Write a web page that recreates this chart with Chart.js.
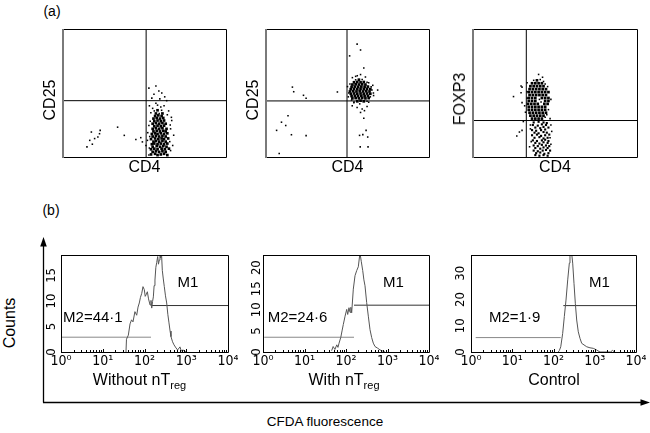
<!DOCTYPE html>
<html><head><meta charset="utf-8">
<script src="https://cdn.jsdelivr.net/npm/chart.js@4.4.0/dist/chart.umd.min.js"></script>
<style>
body{margin:0;background:#fff;width:650px;height:433px;overflow:hidden;position:relative;font-family:"Liberation Sans",Arial,sans-serif;color:#000;}
canvas{position:absolute;}
.t{position:absolute;white-space:nowrap;line-height:16px;transform:translate(-50%,-50%);}
.r{transform:translate(-50%,-50%) rotate(-90deg);}
sub{font-size:11px;line-height:0;vertical-align:baseline;position:relative;top:4px;}
svg{position:absolute;left:0;top:0;}
</style></head><body>
<svg width="650" height="433">
  <line x1="43.5" y1="244" x2="43.5" y2="402.5" stroke="#000" stroke-width="1.3"/>
  <polygon points="43.5,237 40.2,246.5 46.8,246.5" fill="#000"/>
  <line x1="43" y1="402.5" x2="642" y2="402.5" stroke="#000" stroke-width="1.3"/>
  <polygon points="650,402.5 640.5,399.2 640.5,405.8" fill="#000"/>
</svg>
<canvas id="d1" width="189" height="154" style="left:41px;top:25px"></canvas>
<canvas id="d2" width="189" height="154" style="left:244px;top:25px"></canvas>
<canvas id="d3" width="190" height="154" style="left:451px;top:25px"></canvas>
<canvas id="h1" width="193" height="120" style="left:45px;top:252px"></canvas>
<canvas id="h2" width="192" height="120" style="left:247px;top:252px"></canvas>
<canvas id="h3" width="191" height="120" style="left:455px;top:252px"></canvas>

<div class="t" style="left:52px;top:11px;font-size:14px">(a)</div>
<div class="t" style="left:51px;top:210px;font-size:14px">(b)</div>
<div class="t r" style="left:50px;top:100px;font-size:16px">CD25</div>
<div class="t r" style="left:253px;top:100px;font-size:16px">CD25</div>
<div class="t r" style="left:460px;top:99px;font-size:16px">FOXP3</div>
<div class="t r" style="left:10px;top:323px;font-size:16px">Counts</div>
<div class="t" style="left:325px;top:422px;font-size:13.5px">CFDA fluorescence</div>
<div class="t" style="left:139.5px;top:380px;font-size:16px">Without nT<sub>reg</sub></div>
<div class="t" style="left:344px;top:380px;font-size:16px">With nT<sub>reg</sub></div>
<div class="t" style="left:554px;top:380px;font-size:16px">Control</div>

<script>
const FONT = '"Liberation Sans", Arial, sans-serif';
const TICKFONT = '"Liberation Sans Narrow", "DejaVu Sans Condensed", "Liberation Sans", sans-serif';
Chart.defaults.font.family = FONT;
Chart.defaults.color = '#000';

// ---------- (a) dot plots: values on a 0-100 fluorescence scale ----------
const xTitleDot = ['CD4', 'CD4', 'CD4'];
const quadX = [51, 49.7, 32.5];
const quadY = [44, 43.8, 28.5];

const p1Core = [
54,2, 56.5,2.5, 58,1.5, 60,2, 62,2.5, 64,1.5,
55,4, 57,4.5, 59,4, 61,4.5, 63,4,
54,6, 56,6.5, 58,6, 60.5,6.5, 62.5,6, 65,6.5,
55,8, 57.5,8.5, 59.5,8, 61.5,8.5, 63.5,8,
54.5,10, 56,10.5, 58,10, 60,10.5, 62,10, 64,10.5,
55.5,12, 57,12.5, 59,12, 61,12.5, 63,12,
54,14, 56.5,14.5, 58.5,14, 60.5,14.5, 62,14, 64.5,14.5,
55,16, 57,16.5, 59,16, 61,16.5, 63,16,
54.5,18, 56.5,18.5, 58,18, 60,18.5, 62,18, 64,18.5,
55.5,20, 57.5,20.5, 59.5,20, 61.5,20.5, 63,20,
55,22, 57,22.5, 59,22, 61,22.5, 63.5,22,
56,24, 58,24.5, 60,24, 62,24.5,
55,26, 57,26.5, 59,26, 61,26.5, 63,26,
56,28, 58,28.5, 60,28, 62,28.5,
55.5,30, 57.5,30.5, 59.5,30, 61.5,30.5,
56.5,32, 58.5,32.5, 60.5,32,
57,34, 61,34,
58,36.5];
const p1Sparse = [
52.7,53.8, 57,55.4, 58.8,51.5, 60.6,50, 62.4,47, 55.8,49, 59.4,45.4, 54.5,46,
51.8,13, 66.7,28.5, 67.9,17, 50.9,9, 52.7,1.5, 66,5, 64.8,36, 53.9,34.6, 63.6,44,
52.7,24.6, 67.3,9, 53,40, 62,40, 66,22, 52,19, 57,42, 60,39, 56,36, 60.5,36.5, 59,34,
53,7, 53.2,16, 53.5,28, 65.5,12, 65.8,25, 66.5,31, 64,33, 55,38, 58,40.5,
14.7,7.9, 18,10, 16.4,13, 19.4,14.4, 22.4,18.2, 22.8,20.8, 17.4,19.5, 33.5,23.3,
37.6,16.9, 44.7,13.6, 47.7,15.1, 48.7,11.8, 21.4,15.6];

const p2Core = [
56,43.5, 58,44, 60,43.5,
53,45.8, 55,46, 57,45.8, 59,46, 61,45.8, 63,46,
52.5,47.6, 54.5,47.8, 56.5,47.6, 58.5,47.8, 60.5,47.6, 62.5,47.8,
52,49.4, 54,49.6, 56,49.4, 58,49.6, 60,49.4, 62,49.6, 64,49.4,
51.5,51.2, 53.5,51.4, 55.5,51.2, 57.5,51.4, 59.5,51.2, 61.5,51.4, 63.5,51.2,
52,53, 54,53.2, 56,53, 58,53.2, 60,53, 62,53.2, 64,53,
52.5,54.8, 54.5,55, 56.5,54.8, 58.5,55, 60.5,54.8, 62.5,55,
53,56.6, 55,56.8, 57,56.6, 59,56.8, 61,56.6,
54,58.4, 56,58.6, 58,58.4, 60,58.6,
57,60.4];
const p2Sparse = [
55.9,88.2, 58,83.6, 51.3,79, 60,69.5, 58,64.4, 55,63, 43.8,50.8, 65,52.3, 68.5,52.3,
52.9,40, 55.9,38.7, 59,37.5, 62,39.5, 60.4,36.2, 58,34.8, 60,30.3, 61.4,20.8,
57.4,16.9, 59.4,17.5, 62.4,15.6, 57.8,7.9, 62.6,7.9, 53.9,42.5, 63,42.8, 65.9,50,
50,55, 50.5,47, 66,48, 65.5,56, 56,63.5, 61,62.5, 53,62, 54,43, 62,43.5, 64,47, 63,58,
62,58.4, 55,60.3, 59,60.5, 51.5,57, 50.8,50, 52.5,44.5, 64.5,54.8, 57.5,41.5,
16.2,54.6, 17,51, 23,48.2, 24.6,45.9, 13.5,32.3, 9.5,27.2, 12.1,24.6, 6.5,20.8,
15.6,17.4, 24.6,16.7, 8.1,2.8];

const p3Core = [
36,30, 38,30, 40,30, 42,30,
35,32.3, 37,32.3, 39,32.3, 41,32.3, 43,32.3,
34.5,34.6, 36.5,34.6, 38.5,34.6, 40.5,34.6, 42.5,34.6, 44.5,34.6,
34,36.9, 36,36.9, 38,36.9, 40,36.9, 42,36.9, 44,36.9,
34,39.2, 36,39.2, 38,39.2, 40,39.2, 42,39.2, 44,39.2,
33.5,41.5, 35.5,41.5, 37.5,41.5, 39.5,41.5, 43.5,41.5, 45.5,41.5,
34,43.8, 36,43.8, 38,43.8, 44,43.8, 46,43.8,
34,46.1, 36,46.1, 38,46.1, 42,46.1, 44,46.1, 46,46.1,
34.5,48.4, 36.5,48.4, 38.5,48.4, 40.5,48.4, 42.5,48.4, 44.5,48.4,
34,50.7, 36,50.7, 38,50.7, 40,50.7, 42,50.7, 44,50.7, 46,50.7,
34.5,53, 36.5,53, 38.5,53, 40.5,53, 42.5,53, 44.5,53,
35,55.3, 37,55.3, 39,55.3, 41,55.3, 43,55.3,
36,57.6, 38,57.6, 40,57.6, 42,57.6,
39,59.9];
const p3Low = [
37,27, 40,27.5, 43,27, 45,26.5,
36.5,25, 39.5,24.5, 42,25.5, 44.5,25,
38,23, 41,22.5, 43,23.5, 46,23,
36,21, 38.5,20.5, 41.5,21, 44,21.5,
37.5,19, 40,18.5, 43,19.5, 45,19,
36,17, 39,17.5, 41.5,16.5, 44,17, 46.5,17.5,
37.5,15, 40.5,15.5, 43,14.5, 45.5,15,
36.5,13, 39,12.5, 42,13, 44,13.5, 46,12.5,
38,11, 40.5,10.5, 43,11.5, 45.5,11,
37,9, 39.5,8.5, 42,9.5, 44.5,9, 46.5,8.5,
38,7, 41,6.5, 43,7.5, 45.5,7,
37,5, 39.5,4.5, 42.5,5, 44.5,5.5, 47,5,
38.5,3, 41,3.5, 43.5,2.5, 46,3,
38,1.5, 40.5,1, 43,1.5, 45.5,1];
const p3Sparse = [
29.3,55.4, 24.7,47.2, 29.3,50.2, 29.9,42.5, 28.3,19.5, 26.7,16.4, 29.9,20.8, 30.7,27.7,
29.9,54.6, 42.4,62.3, 40,64.5, 47.5,45, 33,58, 31.5,40, 32,35, 47,30, 48,20, 47.5,10,
35,25, 34.5,8, 37,59.9, 41,60.5, 43,59, 44,57, 45.5,55, 46,37, 45,33, 44,31, 33,46, 33,51,
40.5,45, 41.5,43, 35,22, 35.5,12, 47.5,25, 47,15];

// ---------- (b) histograms ----------
const xTickValues = [1, 10, 100, 1000, 10000];
const xTickLabels = ['10\u2070', '10\u00B9', '10\u00B2', '10\u00B3', '10\u2074'];

const h1X = [36,37,41,45,49,53,59,65,70,75,80,86,92,99,104,109,117,125,136,143,149,156,163,170,178,187,196,207,216,226,235,244,255,267,282,298,318,340,362,386,410,431,470,509,568,620,708,760,836,986];
const h1Y = [0,2.5,3.3,5.5,6.3,5.9,7.9,7.2,8.8,9.6,10.7,11.5,12.8,12.2,10.9,11.2,11.8,10.4,9.2,10.1,8.6,9.9,10.8,13,14.1,16.6,17.5,18.7,17.2,18,19.5,18.4,19.5,16,14.3,12.8,11,9.6,7.4,5.7,4.1,3,2,1.4,0.8,0.4,1,0.2,0.4,0];
const h1Ticks = [0, 5, 10, 15];

const h2X = [45,49,54,60,64,68,75,81,86,95,104,110,118,125,131,137,150,165,181,198,217,234,253,270,287,315,345,379,416,455,500,580,659,871];
const h2Y = [0.3,1.3,0.6,1.7,1.1,2.1,3.5,5.2,6.5,8.5,10.1,8.9,10.5,9.4,10.6,9.3,14.9,18.1,19.3,20.2,23.5,21.4,19.3,17.1,15.7,11.7,8.5,5.3,3.4,2.1,1.3,0.9,0.5,0];
const h2Ticks = [0, 5, 10, 15, 20];

const h3X = [130,138,150,167,183,201,221,242,251,276,292,314,338,365,399,439,483,549,638,767,922,1100,1340,2400,2700,3000];
const h3Y = [0,0.5,2,7.1,13.5,19.8,27.5,33.9,37.5,37.5,33.9,26.2,18.6,12.2,7.7,5.2,3.3,2.7,2,1.6,1.4,0.8,0,0,0.6,0];
const h3Ticks = [0, 10, 20, 30];

// gates: [from, to, level]
const m2Gates = [[1.04, 143, 2.9], [1.07, 156, 3.5], [1.3, 150, 5.5]];
const m1Gates = [[149, 10000, 9.1], [156, 10000, 11.1], [173, 10000, 17.7]];
const m2Texts = ['M2=44\u00B71', 'M2=24\u00B76', 'M2=1\u00B79'];

function pairs(a){ const o=[]; for(let i=0;i<a.length;i+=2) o.push({x:a[i],y:a[i+1]}); return o; }

const framePlugin = {
  id: 'frame',
  afterDatasetsDraw(chart, args, o) {
    const {ctx, chartArea: a} = chart;
    const l = Math.round(a.left), r = Math.round(a.right), t = Math.round(a.top), b = Math.round(a.bottom);
    ctx.save();
    ctx.strokeStyle = '#000'; ctx.lineWidth = 1;
    ctx.beginPath();
    ctx.moveTo(l, t + 0.5); ctx.lineTo(r + 0.5, t + 0.5); ctx.lineTo(r + 0.5, b + 0.5); ctx.lineTo(l, b + 0.5);
    ctx.stroke();
    ctx.strokeStyle = o.leftColor || '#000'; ctx.lineWidth = o.leftWidth || 1;
    const off = (o.leftWidth || 1) % 2 ? 0.5 : 0;
    ctx.beginPath(); ctx.moveTo(l + off, t); ctx.lineTo(l + off, b + 1); ctx.stroke();
    ctx.restore();
  }
};

const histDeco = {
  id: 'histDeco',
  afterDatasetsDraw(chart, args, o) {
    const {ctx, chartArea: a, scales: {x, y}} = chart;
    ctx.save();
    ctx.strokeStyle = '#000'; ctx.lineWidth = 1;
    ctx.beginPath();
    for (let d = 0; d < 4; d++) for (let m = 2; m < 10; m++) {
      const px = Math.round(x.getPixelForValue(m * Math.pow(10, d))) + 0.5;
      ctx.moveTo(px, a.bottom); ctx.lineTo(px, a.bottom - 2);
    }
    for (const v of xTickValues) {
      const px = Math.round(x.getPixelForValue(v)) + 0.5;
      ctx.moveTo(px, a.bottom); ctx.lineTo(px, a.bottom - 3);
    }
    ctx.stroke();
    ctx.fillStyle = '#000';
    ctx.font = '15px ' + FONT;
    ctx.textBaseline = 'middle';
    ctx.textAlign = 'center';
    ctx.fillText('M1', x.getPixelForValue(o.m1[0]), y.getPixelForValue(o.m1[1]));
    ctx.textAlign = 'left';
    ctx.fillText(o.m2text, x.getPixelForValue(o.m2[0]), y.getPixelForValue(o.m2[1]));
    ctx.restore();
  }
};

function dotPlot(id, core, low, sparse, qx, qy, xTitle) {
  const ds = [
    {data: pairs([qx, 0, qx, 100]), showLine: true, borderColor: '#000', borderWidth: 1, pointRadius: 0},
    {data: pairs([0, qy, 100, qy]), showLine: true, borderColor: '#000', borderWidth: 1, pointRadius: 0},
    {data: pairs(core), pointStyle: 'rect', pointRadius: 1.9, backgroundColor: '#000', borderWidth: 0},
    {data: pairs(sparse), pointStyle: 'rect', pointRadius: 1.1, backgroundColor: '#000', borderWidth: 0}
  ];
  if (low) ds.push({data: pairs(low), pointStyle: 'rect', pointRadius: 1.5, backgroundColor: '#000', borderWidth: 0});
  new Chart(document.getElementById(id), {
    type: 'scatter',
    data: {datasets: ds},
    options: {
      animation: false, responsive: false, devicePixelRatio: 1, events: [],
      layout: {padding: {left: 0, top: 2, right: 2, bottom: 0}},
      plugins: {legend: {display: false}, tooltip: {enabled: false}, frame: {leftColor: '#7a7a7a', leftWidth: 2}},
      scales: {
        x: {type: 'linear', min: 0, max: 100, ticks: {display: false}, grid: {display: false, drawTicks: false}, border: {display: false},
            title: {display: true, text: xTitle, font: {size: 16}, padding: {top: 0, bottom: 1.5}},
            afterFit(s) { s.height = 22; s.paddingLeft = 0; s.paddingRight = 0; }},
        y: {type: 'linear', min: 0, max: 100, ticks: {display: false}, grid: {display: false, drawTicks: false}, border: {display: false},
            afterFit(s) { s.width = 22; s.paddingTop = 0; s.paddingBottom = 0; }}
      }
    },
    plugins: [framePlugin]
  });
}

function histogram(id, xs, ys, yMax, yTicks, i, yPad) {
  const curve = xs.map((x, k) => ({x, y: ys[k]}));
  const g2 = m2Gates[i], g1 = m1Gates[i];
  const labelPos = [
    {m1: [1100, 13.5], m2: [1.12, 6.7]},
    {m1: [1380, 16.3], m2: [1.3, 8]},
    {m1: [1290, 26.2], m2: [2.73, 12.9]}
  ][i];
  new Chart(document.getElementById(id), {
    type: 'line',
    data: {datasets: [
      {data: curve, borderColor: '#555', borderWidth: 1, pointRadius: 0, tension: 0},
      {data: [{x: g2[0], y: g2[2]}, {x: g2[1], y: g2[2]}], borderColor: '#888', borderWidth: 1, pointRadius: 0},
      {data: [{x: g1[0], y: g1[2]}, {x: g1[1], y: g1[2]}], borderColor: '#333', borderWidth: 1, pointRadius: 0}
    ]},
    options: {
      animation: false, responsive: false, devicePixelRatio: 1, events: [],
      layout: {padding: {left: 0, top: 3, right: 10, bottom: 0}},
      plugins: {legend: {display: false}, tooltip: {enabled: false},
        frame: {leftColor: '#000', leftWidth: 1},
        histDeco: {m1: labelPos.m1, m2: labelPos.m2, m2text: m2Texts[i]}},
      scales: {
        x: {type: 'logarithmic', min: 1, max: 10000, grid: {display: false, drawTicks: false}, border: {display: false},
            afterBuildTicks(s) { s.ticks = xTickValues.map(v => ({value: v})); },
            ticks: {autoSkip: false, maxRotation: 0, padding: 1, font: {size: 14, family: TICKFONT}, color: '#000',
                    callback: (v, k) => xTickLabels[k]},
            afterFit(s) { s.height = 20; s.paddingLeft = 0; s.paddingRight = 0; }},
        y: {type: 'linear', min: 0, max: yMax, grid: {display: false, drawTicks: false}, border: {display: false},
            afterBuildTicks(s) { s.ticks = yTicks.map(v => ({value: v})); },
            ticks: {autoSkip: false, minRotation: 90, maxRotation: 90, crossAlign: 'center', padding: yPad,
                    font: {size: 13, family: TICKFONT}, color: '#000'},
            afterFit(s) { s.width = 16; s.paddingTop = 0; s.paddingBottom = 0; }}
      }
    },
    plugins: [framePlugin, histDeco]
  });
}

dotPlot('d1', p1Core, null, p1Sparse, quadX[0], quadY[0], xTitleDot[0]);
dotPlot('d2', p2Core, null, p2Sparse, quadX[1], quadY[1], xTitleDot[1]);
dotPlot('d3', p3Core, p3Low, p3Sparse, quadX[2], quadY[2], xTitleDot[2]);
histogram('h1', h1X, h1Y, 19, h1Ticks, 0, 2.1);
histogram('h2', h2X, h2Y, 23, h2Ticks, 1, -1.3);
histogram('h3', h3X, h3Y, 37, h3Ticks, 2, 3.1);
</script>
</body></html>
